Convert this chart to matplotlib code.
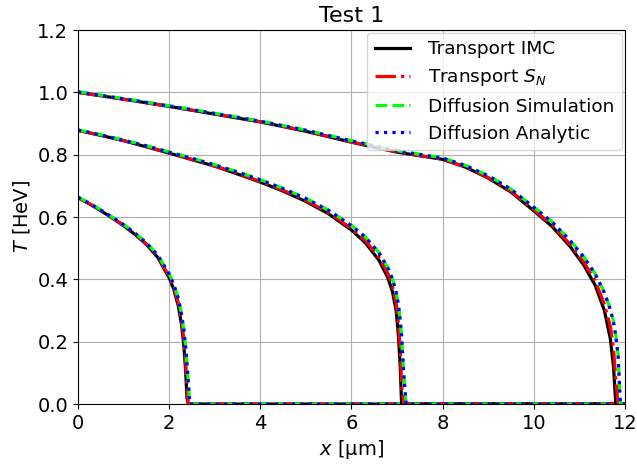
import matplotlib
matplotlib.use("Agg")
import matplotlib.pyplot as plt

# three snapshots, values
# snapshot 1 (front ~2.4 um)
x1 = [0.0, 0.25, 0.5, 0.75, 1.0, 1.25, 1.5, 1.75, 2.0, 2.1, 2.2, 2.27, 2.32, 2.36, 2.39, 2.42, 2.45, 2.5, 12.0]
T1_imc = [0.662, 0.642, 0.620, 0.597, 0.572, 0.544, 0.512, 0.470, 0.405, 0.368, 0.315, 0.255, 0.190, 0.110, 0.02, 0.0, 0.0, 0.0, 0.0]
T1_sn = [0.662, 0.643, 0.621, 0.598, 0.573, 0.546, 0.514, 0.473, 0.410, 0.375, 0.325, 0.270, 0.210, 0.140, 0.06, 0.0, 0.0, 0.0, 0.0]
T1_dsim = [0.664, 0.645, 0.623, 0.600, 0.576, 0.549, 0.518, 0.478, 0.418, 0.385, 0.340, 0.290, 0.240, 0.185, 0.130, 0.07, 0.0, 0.0, 0.0]
T1_dan = [0.663, 0.644, 0.622, 0.600, 0.575, 0.548, 0.517, 0.477, 0.417, 0.384, 0.338, 0.288, 0.238, 0.183, 0.128, 0.07, 0.0, 0.0, 0.0]

# snapshot 2 (front ~7.1 um)
x2 = [0.0, 0.5, 1.0, 1.5, 2.0, 2.5, 3.0, 3.5, 4.0, 4.5, 5.0, 5.5, 6.0, 6.3, 6.6, 6.8, 6.9, 6.98, 7.03, 7.07, 7.1, 7.15, 7.2, 12.0]
T2_imc = [0.878, 0.862, 0.845, 0.825, 0.805, 0.784, 0.763, 0.738, 0.712, 0.683, 0.650, 0.610, 0.558, 0.518, 0.462, 0.405, 0.360, 0.300, 0.220, 0.120, 0.0, 0.0, 0.0, 0.0]
T2_sn = [0.878, 0.862, 0.845, 0.826, 0.806, 0.785, 0.764, 0.740, 0.714, 0.686, 0.653, 0.614, 0.563, 0.525, 0.472, 0.418, 0.378, 0.325, 0.260, 0.180, 0.06, 0.0, 0.0, 0.0]
T2_dsim = [0.880, 0.864, 0.847, 0.829, 0.809, 0.789, 0.768, 0.745, 0.720, 0.692, 0.660, 0.622, 0.573, 0.537, 0.487, 0.437, 0.402, 0.360, 0.320, 0.270, 0.220, 0.09, 0.0, 0.0]
T2_dan = [0.879, 0.863, 0.846, 0.828, 0.808, 0.788, 0.767, 0.744, 0.719, 0.691, 0.659, 0.621, 0.572, 0.536, 0.486, 0.436, 0.401, 0.358, 0.318, 0.268, 0.218, 0.09, 0.0, 0.0]

# snapshot 3 (front ~11.8 um)
x3 = [0.0, 1.0, 2.0, 3.0, 4.0, 5.0, 6.0, 7.0, 8.0, 8.5, 9.0, 9.5, 10.0, 10.4, 10.8, 11.1, 11.35, 11.55, 11.68, 11.75, 11.8, 11.85, 11.9, 12.0]
T3_imc = [1.000, 0.978, 0.955, 0.930, 0.905, 0.875, 0.840, 0.808, 0.785, 0.760, 0.725, 0.680, 0.620, 0.570, 0.505, 0.445, 0.380, 0.300, 0.210, 0.120, 0.0, 0.0, 0.0, 0.0]
T3_sn = [1.000, 0.978, 0.955, 0.931, 0.906, 0.876, 0.841, 0.809, 0.786, 0.761, 0.727, 0.683, 0.624, 0.575, 0.512, 0.455, 0.395, 0.320, 0.250, 0.180, 0.08, 0.0, 0.0, 0.0]
T3_dsim = [1.002, 0.980, 0.957, 0.933, 0.908, 0.879, 0.845, 0.813, 0.790, 0.766, 0.733, 0.690, 0.632, 0.585, 0.525, 0.472, 0.418, 0.358, 0.305, 0.265, 0.220, 0.160, 0.0, 0.0]
T3_dan = [1.001, 0.979, 0.956, 0.932, 0.907, 0.878, 0.844, 0.812, 0.789, 0.765, 0.732, 0.689, 0.631, 0.584, 0.524, 0.471, 0.417, 0.357, 0.303, 0.262, 0.218, 0.158, 0.0, 0.0]

plt.rcParams['font.size'] = 14

fig = plt.figure(figsize=(6.37, 4.66), dpi=100)
ax = fig.add_axes([0.1225, 0.133, 0.8585, 0.8026])

lw = 2.3
for i, (x, imc, sn, dsim, dan) in enumerate([(x1, T1_imc, T1_sn, T1_dsim, T1_dan),
                                             (x2, T2_imc, T2_sn, T2_dsim, T2_dan),
                                             (x3, T3_imc, T3_sn, T3_dsim, T3_dan)]):
    ax.plot(x, imc, 'k-', lw=lw, label='Transport IMC' if i == 0 else None)
    ax.plot(x, sn, 'r-.', lw=lw, label='Transport $S_N$' if i == 0 else None)
    ax.plot(x, dsim, '--', color='lime', lw=lw, label='Diffusion Simulation' if i == 0 else None)
    ax.plot(x, dan, ':', color='blue', lw=lw, label='Diffusion Analytic' if i == 0 else None)

ax.set_xlim(0, 12)
ax.set_ylim(0, 1.2)
ax.grid(True)
ax.set_xlabel('$x$ [μm]')
ax.set_ylabel('$T$ [HeV]')
ax.set_title('Test 1', fontsize=16)
ax.legend(loc='upper right', fontsize=13.3, borderaxespad=0.15,
          handlelength=1.9, handletextpad=1.0)

fig.savefig('out.png', dpi=100)
